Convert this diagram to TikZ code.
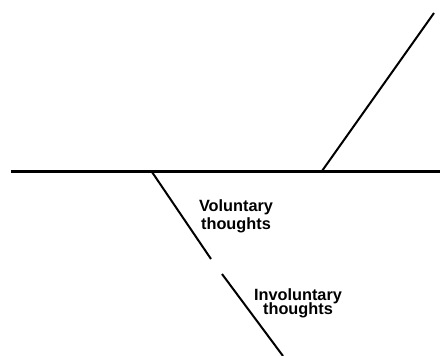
\documentclass[tikz,border=0pt]{standalone}
\usepackage{fontspec}
\setmainfont{Liberation Sans}

\begin{document}
\begin{tikzpicture}[x=1pt, y=-1pt,
		axis/.style={line width=3.4pt},
		branch/.style={line width=2pt},
		thought/.style={font=\bfseries\fontsize{16.3}{18}\selectfont,
			align=center, inner sep=0pt}
	]
		\useasboundingbox (0,0) rectangle (440,356);
		\coordinate (left) at (11,171.5);
		\coordinate (right) at (440,171.5);
		\coordinate (fork) at (322,171);
		\coordinate (tip) at (434,13);
		\coordinate (root) at (152,172);
		\coordinate (gapa) at (211,259);
		\coordinate (gapb) at (222,274);
		\coordinate (foot) at (283,356);
		\draw[axis] (left) -- (right);
		\foreach \a/\b in {fork/tip,root/gapa,gapb/foot}
			\draw[branch] (\a) -- (\b);
		\node[thought, anchor=base] (vol) at (236,229) {Voluntary\\thoughts};
		\node[thought, anchor=base] (invol) at (298,314) {Involuntary\\[-4pt]thoughts};
	\end{tikzpicture}
\end{document}
